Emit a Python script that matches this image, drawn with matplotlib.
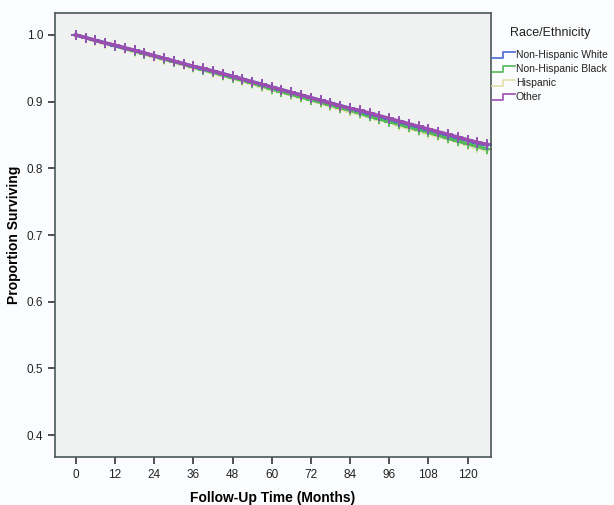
import numpy as np
import matplotlib
matplotlib.use("Agg")
import matplotlib.pyplot as plt
from matplotlib.lines import Line2D

plt.rcParams["font.family"] = ["Liberation Sans", "DejaVu Sans"]

months = list(range(0, 127, 3))

white = [1.000, 0.996, 0.992, 0.988, 0.984, 0.980, 0.977, 0.973, 0.969, 0.965,
         0.961, 0.957, 0.953, 0.949, 0.946, 0.942, 0.938, 0.934, 0.930, 0.926,
         0.922, 0.918, 0.914, 0.910, 0.906, 0.902, 0.898, 0.894, 0.890, 0.886,
         0.882, 0.878, 0.874, 0.870, 0.866, 0.862, 0.858, 0.854, 0.850, 0.846,
         0.842, 0.838, 0.835]
black = [1.000, 0.996, 0.992, 0.988, 0.984, 0.980, 0.976, 0.972, 0.968, 0.964,
         0.960, 0.956, 0.952, 0.948, 0.944, 0.940, 0.936, 0.932, 0.928, 0.924,
         0.919, 0.915, 0.911, 0.907, 0.903, 0.899, 0.895, 0.891, 0.887, 0.883,
         0.878, 0.874, 0.870, 0.866, 0.862, 0.858, 0.854, 0.850, 0.845, 0.841,
         0.837, 0.833, 0.829]
hispanic = [1.000, 0.996, 0.991, 0.987, 0.983, 0.979, 0.975, 0.971, 0.967, 0.963,
            0.959, 0.955, 0.951, 0.947, 0.943, 0.939, 0.935, 0.931, 0.927, 0.922,
            0.918, 0.914, 0.910, 0.906, 0.902, 0.898, 0.893, 0.889, 0.885, 0.881,
            0.877, 0.873, 0.869, 0.864, 0.860, 0.856, 0.852, 0.848, 0.844, 0.840,
            0.835, 0.831, 0.827]
other = [1.000, 0.996, 0.992, 0.988, 0.985, 0.981, 0.977, 0.973, 0.969, 0.965,
         0.961, 0.957, 0.953, 0.950, 0.946, 0.942, 0.938, 0.934, 0.930, 0.926,
         0.922, 0.918, 0.914, 0.910, 0.906, 0.902, 0.898, 0.894, 0.890, 0.887,
         0.883, 0.879, 0.875, 0.871, 0.867, 0.863, 0.859, 0.855, 0.851, 0.847,
         0.843, 0.839, 0.836]

groups = ["Hispanic", "Non-Hispanic Black", "Non-Hispanic White", "Other"]
curves = [hispanic, black, white, other]
colors = ["#e2dfa8", "#52b85a", "#4a6bd0", "#9a4fb0"]

W, H = 614, 505
fig = plt.figure(figsize=(W / 100, H / 100), dpi=100, facecolor="#fbfcfd")
ax = fig.add_axes([55 / W, 1 - 457 / H, 436 / W, 444 / H])
ax.set_facecolor("#f0f1f1")

for name, vals, col in zip(groups, curves, colors):
    ax.plot(months, vals, color=col, lw=2.4, marker="+", ms=7, mew=1.3)

ax.set_xlim(-6.4, 127.2)
ax.set_ylim(0.367, 1.033)
ax.set_xticks(range(0, 121, 12))
ax.set_yticks([0.4, 0.5, 0.6, 0.7, 0.8, 0.9, 1.0])
ax.tick_params(direction="out", length=5, width=1.2, color="#333333",
               labelsize=8.5, labelcolor="#222222")
for s in ax.spines.values():
    s.set_color("#4b5858")
    s.set_linewidth(1.2)

ax.set_xlabel("Follow-Up Time (Months)", fontsize=10, fontweight="bold",
              labelpad=7)
ax.set_ylabel("Proportion Surviving", fontsize=10, fontweight="bold")

# legend drawn by hand, with SPSS-style step glyphs
fig.text(510 / W, 1 - 33 / H, "Race/Ethnicity", fontsize=9, color="#222222",
         va="center")
order = [2, 1, 0, 3]
for k, i in enumerate(order):
    yc = 55 + 14 * k
    gx = np.array([492, 503, 503, 515]) / W
    gy = 1 - np.array([yc + 3, yc + 3, yc - 3, yc - 3]) / H
    fig.add_artist(Line2D(gx, gy, color=colors[i], lw=1.2))
    fig.text(516 / W, 1 - yc / H, groups[i], fontsize=7.5, color="#222222",
             va="center")

fig.savefig("out.png", dpi=100, facecolor=fig.get_facecolor())
